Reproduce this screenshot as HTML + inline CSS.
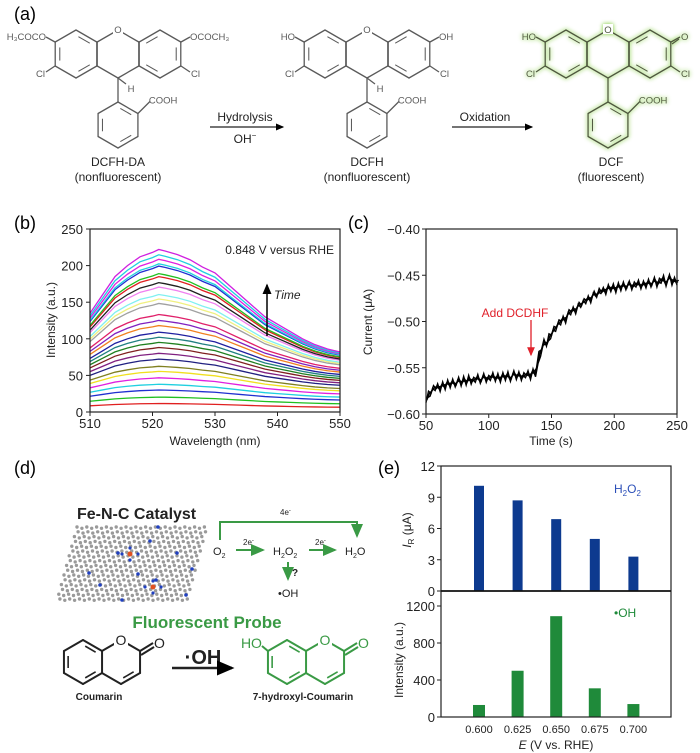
<!DOCTYPE html>
<html><head><meta charset="utf-8"><style>
body{margin:0;background:#fff;width:700px;height:753px;overflow:hidden;font-family:"Liberation Sans",sans-serif}
svg{position:absolute;left:0;top:0}
text{font-family:"Liberation Sans",sans-serif}
</style></head><body>
<svg id="fig" width="700" height="753" viewBox="0 0 700 753">
<defs><filter id="glow" x="-20%" y="-20%" width="140%" height="140%"><feGaussianBlur in="SourceAlpha" stdDeviation="2" result="b"/><feFlood flood-color="#a8dc78"/><feComposite in2="b" operator="in"/><feMerge><feMergeNode/><feMergeNode/><feMergeNode in="SourceGraphic"/></feMerge></filter>
<marker id="ah" markerWidth="8" markerHeight="8" refX="6" refY="3" orient="auto"><path d="M0,0 L7,3 L0,6z" fill="#000"/></marker>
<marker id="ahg" markerWidth="8" markerHeight="8" refX="6" refY="3" orient="auto"><path d="M0,0 L7,3 L0,6z" fill="#3a9a45"/></marker>
<marker id="ahr" markerWidth="8" markerHeight="8" refX="6" refY="3" orient="auto"><path d="M0,0 L7,3 L0,6z" fill="#e0202a"/></marker></defs>
<g font-size="18">
<text x="14" y="20">(a)</text>
<text x="14" y="229">(b)</text>
<text x="348" y="229">(c)</text>
<text x="14" y="474">(d)</text>
<text x="378" y="474">(e)</text>
</g>
<g id="panelA"></g>
<g font-size="12" text-anchor="middle" fill="#222">
<text x="118" y="166">DCFH-DA</text>
<text x="118" y="181">(nonfluorescent)</text>
<text x="367" y="166">DCFH</text>
<text x="367" y="181">(nonfluorescent)</text>
<text x="611" y="166">DCF</text>
<text x="611" y="181">(fluorescent)</text>
<text x="245" y="121">Hydrolysis</text>
<text x="245" y="143">OH<tspan dy="-5" font-size="8">−</tspan></text>
<text x="485" y="121">Oxidation</text>
</g>
<line x1="210" y1="127" x2="283" y2="127" stroke="#222" stroke-width="1.2" marker-end="url(#ah)"/>
<line x1="452" y1="127" x2="532" y2="127" stroke="#222" stroke-width="1.2" marker-end="url(#ah)"/>

<g id="panelB"></g>
<g id="panelC"></g>
<g id="panelD">
<text x="77" y="519" font-size="16" font-weight="bold" fill="#222">Fe-N-C Catalyst</text>
<g id="lattice"></g>
<g font-size="11" fill="#222">
<text x="213" y="555">O<tspan font-size="7" dy="3">2</tspan></text>
<text x="273" y="555">H<tspan font-size="7" dy="3">2</tspan><tspan dy="-3">O</tspan><tspan font-size="7" dy="3">2</tspan></text>
<text x="345" y="555">H<tspan font-size="7" dy="3">2</tspan><tspan dy="-3">O</tspan></text>
<text x="278" y="597">•OH</text>
<text x="280" y="515" font-size="8">4e<tspan dy="-3" font-size="6">-</tspan></text>
<text x="243" y="545" font-size="8">2e<tspan dy="-3" font-size="6">-</tspan></text>
<text x="315" y="545" font-size="8">2e<tspan dy="-3" font-size="6">-</tspan></text>
<text x="292" y="576" font-size="10" font-weight="bold">?</text>
</g>
<g stroke="#3a9a45" stroke-width="2" fill="none">
<path d="M220,540 V522 H357 V536" marker-end="url(#ahg)"/>
<line x1="236" y1="550" x2="263" y2="550" marker-end="url(#ahg)"/>
<line x1="309" y1="550" x2="335" y2="550" marker-end="url(#ahg)"/>
<line x1="288" y1="562" x2="288" y2="579" marker-end="url(#ahg)"/>
</g>
<text x="207" y="628" font-size="17" font-weight="bold" fill="#3a9a45" text-anchor="middle">Fluorescent Probe</text>
<g id="coumarins"></g>
<text x="203" y="664" font-size="20" font-weight="bold" text-anchor="middle" fill="#222">·OH</text>
<line x1="172" y1="668" x2="232" y2="668" stroke="#222" stroke-width="2.5" marker-end="url(#ah)"/>
<text x="99" y="700" font-size="10" font-weight="bold" text-anchor="middle" fill="#222">Coumarin</text>
<text x="303" y="700" font-size="10" font-weight="bold" text-anchor="middle" fill="#222">7-hydroxyl-Coumarin</text>
</g>
<g id="panelE"></g>
</svg>
<script>
const NS="http://www.w3.org/2000/svg";
function el(tag,attrs,parent,txt){const e=document.createElementNS(NS,tag);for(const k in attrs)e.setAttribute(k,attrs[k]);if(txt!==undefined)e.textContent=txt;parent.appendChild(e);return e;}
function hexPts(cx,cy,r){const p=[];for(let i=0;i<6;i++){const a=(-90+60*i)*Math.PI/180;p.push([cx+r*Math.cos(a),cy+r*Math.sin(a)]);}return p;}
function ring(g,cx,cy,r,col,sw,doubles,skip){
  const p=hexPts(cx,cy,r);
  for(let i=0;i<6;i++){if(skip&&skip.includes(i))continue;const a=p[i],b=p[(i+1)%6];el('line',{x1:a[0],y1:a[1],x2:b[0],y2:b[1],stroke:col,'stroke-width':sw,'stroke-linecap':'round'},g);}
  (doubles||[]).forEach(i=>{const a=p[i],b=p[(i+1)%6];const f=0.78;
    const ia=[cx+(a[0]-cx)*f,cy+(a[1]-cy)*f],ib=[cx+(b[0]-cx)*f,cy+(b[1]-cy)*f];
    const s=0.15;el('line',{x1:ia[0]+(ib[0]-ia[0])*s,y1:ia[1]+(ib[1]-ia[1])*s,x2:ib[0]-(ib[0]-ia[0])*s,y2:ib[1]-(ib[1]-ia[1])*s,stroke:col,'stroke-width':sw*0.8},g);});
  return p;
}
// ---------- panel a molecules ----------
function molecule(cx,kind){
  const g=el('g',{},document.getElementById('panelA'));
  
  
  const col=kind==='dcf'?'#4f5640':'#5a5a5a';
  if(kind==='dcf')g.setAttribute('filter','url(#glow)');
  const r=24,w=21,cy=54,sw=1.3;
  ring(g,cx-2*w,cy,r,col,sw,[0,2,4]);
  ring(g,cx,cy,r,col,sw,kind==='dcf'?[]:[]);
  ring(g,cx+2*w,cy,r,col,sw,[5,1,3]);
  const pcy=125,pr=23;
  const pp=ring(g,cx,pcy,pr,col,sw,[0,2,4]);
  const L=(x1,y1,x2,y2)=>el('line',{x1:x1,y1:y1,x2:x2,y2:y2,stroke:col,'stroke-width':sw},g);
  L(cx,cy+r,cx,pcy-pr);
  L(pp[1][0],pp[1][1],pp[1][0]+12,pp[1][1]-12);
  const t=(x,y,s,a)=>el('text',{x:x,y:y,'font-size':9.5,fill:col,'text-anchor':a||'middle'},g,s);
  el('rect',{x:cx-5,y:cy-r-6,width:10,height:10,fill:'#fff'},g);
  t(cx,cy-r+3,'O');
  t(pp[1][0]+11,pp[1][1]-10,'COOH','start');
  if(kind!=='dcf'){L(cx,cy+r,cx+8,cy+r+6);t(cx+13,cy+r+14,'H');}
  const ox=cx-3*w,rx=cx+3*w;
  L(ox,cy+r/2,ox-9,cy+r/2+6);t(ox-10,cy+r/2+11,'Cl','end');
  L(rx,cy+r/2,rx+9,cy+r/2+6);t(rx+10,cy+r/2+11,'Cl','start');
  L(ox,cy-r/2,ox-9,cy-r/2-5);L(rx,cy-r/2,rx+9,cy-r/2-5);
  if(kind==='da'){t(ox-9,cy-r/2-2,'H₃COCO','end');t(rx+9,cy-r/2-2,'OCOCH₃','start');}
  else if(kind==='dcfh'){t(ox-9,cy-r/2-2,'HO','end');t(rx+9,cy-r/2-2,'OH','start');}
  else{t(ox-9,cy-r/2-2,'HO','end');L(rx+1,cy-r/2+2,rx+8,cy-r/2-3);t(rx+10,cy-r/2-2,'O','start');}
}
molecule(118,'da');molecule(367,'dcfh');molecule(608,'dcf');

// ---------- panel b ----------
const bWave=[510,512,514,516,518,520,521,522,524,526,528,530,532,534,536,538,540,542,544,546,548,550];
const bShape=[135,160,185,200,212,218,222,220,215,208,198,190,175,160,145,130,120,110,100,92,86,82];
const bPeaks=[12,21,31,39,48,57,64,74,82,90,97,104,111,120,127,135,150,156,162,172,178,186,190,200,203,209,215,222];
const bColors=['#e02020','#20c020','#2030d0','#20d0e0','#e020e0','#f0e020','#808020','#202080','#802080','#802020','#208020','#208080','#2020a0','#f08020','#8020c0','#e0206a','#a0a0a0','#f0f080','#80f0f0','#f080f0','#202020','#e02020','#20c020','#2030d0','#20d0e0','#e020e0','#20d0e0','#d020e0'];
const bYTicks=[0,50,100,150,200,250],bXTicks=[510,520,530,540,550];
(function(){
  const g=document.getElementById('panelB');
  const L=90,R=340,T=229,B=412;
  const xs=v=>L+(v-510)/40*(R-L), ys=v=>B-v/250*(B-T);
  bPeaks.forEach((pk,i)=>{
    const pts=bWave.map((w,j)=>{const f=bShape[j]/222;const flat=0.35*(1-pk/222);return xs(w)+','+ys(pk*(f*(1-flat)+flat*0.9))}).join(' ');
    const p=el('polyline',{points:pts,fill:'none',stroke:bColors[i],'stroke-width':1.3},g);
    
    
  });
  const ax=el('rect',{x:L,y:T,width:R-L,height:B-T,fill:'none',stroke:'#222','stroke-width':1.2},g);
  
  bYTicks.forEach(v=>{el('line',{x1:L-4,x2:L,y1:ys(v),y2:ys(v),stroke:'#222'},g);const t=el('text',{x:L-7,y:ys(v)+5,'font-size':13,'text-anchor':'end',fill:'#222'},g,v);});
  bXTicks.forEach(v=>{el('line',{x1:xs(v),x2:xs(v),y1:B,y2:B+4,stroke:'#222'},g);const t=el('text',{x:xs(v),y:B+16,'font-size':13,'text-anchor':'middle',fill:'#222'},g,v);});
  let t=el('text',{x:215,y:445,'font-size':12,'text-anchor':'middle',fill:'#222'},g,'Wavelength (nm)');
  t=el('text',{transform:'translate(55,320) rotate(-90)','font-size':12,'text-anchor':'middle',fill:'#222'},g,'Intensity (a.u.)');
  t=el('text',{x:334,y:254,'font-size':12,'text-anchor':'end',fill:'#222'},g,'0.848 V versus RHE');
  t=el('line',{x1:267,y1:336,x2:267,y2:285,stroke:'#000','stroke-width':1.5,'marker-end':'url(#ah)'},g);
  t=el('text',{x:274,y:299,'font-size':12,'font-style':'italic',fill:'#222'},g,'Time');
})();

// ---------- panel c ----------
const cStart=50,cStep=2;
const cCurrent=[-.585,-.578,-.575,-.572,-.570,-.573,-.568,-.571,-.566,-.569,
-.565,-.568,-.566,-.563,-.567,-.562,-.566,-.561,-.565,-.563,
-.560,-.564,-.562,-.559,-.563,-.561,-.558,-.562,-.559,-.563,
-.558,-.561,-.557,-.562,-.559,-.556,-.560,-.557,-.561,-.558,
-.556,-.560,-.554,-.557,-.548,-.535,-.528,-.522,-.524,-.516,
-.512,-.508,-.504,-.501,-.497,-.499,-.493,-.490,-.487,-.489,
-.484,-.482,-.480,-.478,-.475,-.477,-.472,-.470,-.471,-.467,
-.466,-.468,-.463,-.465,-.462,-.466,-.461,-.464,-.460,-.463,
-.461,-.459,-.463,-.460,-.458,-.462,-.459,-.461,-.457,-.460,
-.458,-.455,-.460,-.456,-.453,-.459,-.455,-.452,-.458,-.455,-.458];
const cYTicks=[-0.40,-0.45,-0.50,-0.55,-0.60],cXTicks=[50,100,150,200,250];
(function(){
  const g=document.getElementById('panelC');
  const L=426,R=677,T=229,B=414;
  const xs=v=>L+(v-50)/200*(R-L), ys=v=>B-(v+0.60)/0.20*(B-T);
  [-2.5,0,2.5].forEach((o,k)=>{
    const pts=cCurrent.map((v,i)=>(xs(cStart+i*cStep)+k*0.8)+','+(ys(v)+o*(((i+k)%2)?1:-1))).join(' ');
    const p=el('polyline',{points:pts,fill:'none',stroke:'#000','stroke-width':1.4},g);
    
    
  });
  el('rect',{x:L,y:T,width:R-L,height:B-T,fill:'none',stroke:'#222','stroke-width':1.2},g);
  cYTicks.forEach(v=>{el('line',{x1:L-4,x2:L,y1:ys(v),y2:ys(v),stroke:'#222'},g);const t=el('text',{x:L-6,y:ys(v)+5,'font-size':13,'text-anchor':'end',fill:'#222'},g,'−'+Math.abs(v).toFixed(2));});
  cXTicks.forEach(v=>{el('line',{x1:xs(v),x2:xs(v),y1:B,y2:B+4,stroke:'#222'},g);const t=el('text',{x:xs(v),y:B+16,'font-size':13,'text-anchor':'middle',fill:'#222'},g,v);});
  let t=el('text',{x:551,y:445,'font-size':12,'text-anchor':'middle',fill:'#222'},g,'Time (s)');
  t=el('text',{transform:'translate(372,322) rotate(-90)','font-size':12,'text-anchor':'middle',fill:'#222'},g,'Current (μA)');
  t=el('text',{x:515,y:317,'font-size':12,'text-anchor':'middle',fill:'#e0202a'},g,'Add DCDHF');
  t=el('line',{x1:531,y1:320,x2:531,y2:355,stroke:'#e0202a','stroke-width':1.3,'marker-end':'url(#ahr)'},g);
})();

// ---------- panel d lattice & coumarins ----------
(function(){
  const g=document.getElementById('lattice');
  for(let r=0;r<16;r++)for(let c=0;c<30;c++){
    const x=77+c*4.9-r*1.3+(r%2)*2.4, y=527+r*4.8+((c%2)?1.3:0);
    if(x>205-r*1.3+2)continue;
    el('circle',{cx:x,cy:y,r:1.7,fill:'#9a9a9a'},g);
  }
  [[158,527],[150,541],[118,553],[177,553],[138,574],[89,573],[156,580],[192,569],[186,595],[122,600],[100,585]].forEach(p=>el('circle',{cx:p[0],cy:p[1],r:1.8,fill:'#2040c0'},g));
  [[130,554],[153,587]].forEach(p=>{el('circle',{cx:p[0],cy:p[1],r:2.5,fill:'#e05020'},g);[[-8,0],[8,0],[0,-6],[0,6]].forEach(d=>el('circle',{cx:p[0]+d[0],cy:p[1]+d[1],r:1.6,fill:'#2040c0'},g));});
  const cg=document.getElementById('coumarins');
  function coum(cx1,col,oh){
    const h=el('g',{},cg);
    
    
    const r=22,w=19,cy=662,sw=2;
    ring(h,cx1,cy,r,col,sw,[0,2,4]);
    const cx2=cx1+2*w;
    const p=ring(h,cx2,cy,r,col,sw,[2],[4]);
    // carbonyl
    const a=p[1];
    el('line',{x1:a[0],y1:a[1],x2:a[0]+13,y2:a[1]-8,stroke:col,'stroke-width':sw},h);
    el('line',{x1:a[0]+1,y1:a[1]+4,x2:a[0]+14,y2:a[1]-4,stroke:col,'stroke-width':sw},h);
    el('rect',{x:cx2-7,y:cy-r-8,width:14,height:14,fill:'#fff'},h);
    el('text',{x:cx2,y:cy-r+5,fill:col,'font-size':14,'text-anchor':'middle'},h,'O');
    el('text',{x:a[0]+14,y:a[1]-3,fill:col,'font-size':14},h,'O');
    if(oh){const q=hexPts(cx1,cy,r)[5];el('line',{x1:q[0],y1:q[1],x2:q[0]-6,y2:q[1]-5,stroke:col,'stroke-width':sw},h);el('text',{x:q[0]-6,y:q[1]-3,fill:col,'font-size':14,'text-anchor':'end'},h,'HO');}
  }
  coum(83,'#222',false);coum(287,'#3a9a45',true);
})();

// ---------- panel e ----------
const ePot=['0.600','0.625','0.650','0.675','0.700'];
const eH2O2=[10.1,8.7,6.9,5.0,3.3];
const eOH=[130,500,1090,310,140];
const eTopTicks=[0,3,6,9,12],eBotTicks=[0,400,800,1200];
(function(){
  const g=document.getElementById('panelE');
  const L=441,R=671,T=466,M=591,B=717;
  const xs=i=>479+i*38.6;
  const yt=v=>M-v/12*(M-T), yb=v=>B-v/1200*(B-606);
  eH2O2.forEach((v,i)=>{const b=el('rect',{x:xs(i)-5,y:yt(v),width:10,height:M-yt(v),fill:'#0d3a8f'},g);});
  eOH.forEach((v,i)=>{const b=el('rect',{x:xs(i)-6,y:yb(v),width:12,height:B-yb(v),fill:'#1f8a3a'},g);});
  el('rect',{x:L,y:T,width:R-L,height:B-T,fill:'none',stroke:'#222','stroke-width':1.2},g);
  el('line',{x1:L,x2:R,y1:M,y2:M,stroke:'#111','stroke-width':1.8},g);
  eTopTicks.forEach(v=>{el('line',{x1:L-4,x2:L,y1:yt(v),y2:yt(v),stroke:'#222'},g);const t=el('text',{x:L-6,y:yt(v)+5,'font-size':13,'text-anchor':'end',fill:'#222'},g,v);});
  eBotTicks.forEach(v=>{el('line',{x1:L-4,x2:L,y1:yb(v),y2:yb(v),stroke:'#222'},g);const t=el('text',{x:L-6,y:yb(v)+5,'font-size':13,'text-anchor':'end',fill:'#222'},g,v);});
  ePot.forEach((p,i)=>{const t=el('text',{x:xs(i),y:733,'font-size':11,'text-anchor':'middle',fill:'#222'},g,p);});
  let t=el('text',{x:556,y:749,'font-size':12,'text-anchor':'middle',fill:'#222'},g);t.innerHTML='<tspan font-style="italic">E</tspan> (V vs. RHE)';
  t=el('text',{transform:'translate(411,530) rotate(-90)','font-size':12,'text-anchor':'middle',fill:'#222'},g);t.innerHTML='<tspan font-style="italic">I</tspan><tspan font-size="8" dy="3">R</tspan><tspan dy="-3"> (μA)</tspan>';
  t=el('text',{transform:'translate(403,660) rotate(-90)','font-size':12,'text-anchor':'middle',fill:'#222'},g,'Intensity (a.u.)');
  t=el('text',{x:614,y:493,'font-size':12,fill:'#2b4fb8'},g);t.innerHTML='H<tspan font-size="8" dy="3">2</tspan><tspan dy="-3">O</tspan><tspan font-size="8" dy="3">2</tspan>';
  t=el('text',{x:614,y:617,'font-size':12,fill:'#1f8a3a'},g,'•OH');
})();
</script>
</body></html>
